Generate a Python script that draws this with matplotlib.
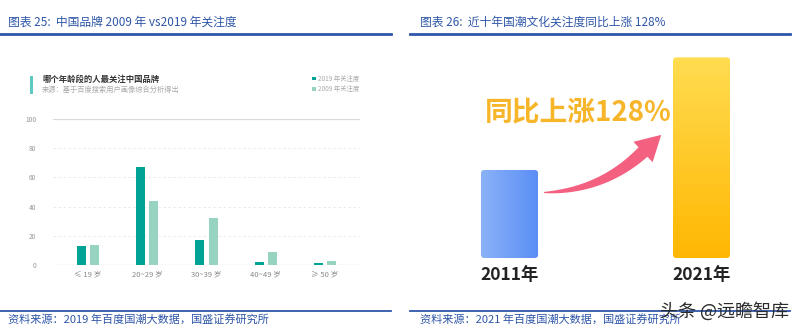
import numpy as np
import matplotlib
matplotlib.use("Agg")
import matplotlib.pyplot as plt
from matplotlib.patches import FancyBboxPatch, Polygon, Rectangle
from matplotlib.colors import LinearSegmentedColormap

plt.rcParams['font.family'] = ['Noto Sans CJK SC', 'DejaVu Sans']

# left chart data
age_groups = ["≤ 19 岁", "20~29 岁", "30~39 岁", "40~49 岁", "≥ 50 岁"]
attention_2019 = [13, 67, 17, 2, 1.4]
attention_2009 = [14, 44, 32, 9, 3]
y_ticks = [0, 20, 40, 60, 80, 100]

# right chart data
years = ["2011年", "2021年"]
heat_index = [100, 228]   # +128%

BLUE = "#2e56a8"
DARK_TEAL = "#00a396"
LIGHT_TEAL = "#97d3c1"

W, H = 800, 334
fig = plt.figure(figsize=(8, 3.34), dpi=100)


def fax(x0, y0, x1, y1):
    # axes from pixel box (top-left origin)
    return fig.add_axes([x0 / W, 1 - y1 / H, (x1 - x0) / W, (y1 - y0) / H])


# ---- overlay for page decorations (pixel coords) ----
deco = fig.add_axes([0, 0, 1, 1], zorder=5)
deco.set_xlim(0, W)
deco.set_ylim(H, 0)
deco.axis("off")

deco.text(8, 22, "图表 25:  中国品牌 2009 年 vs2019 年关注度", color=BLUE,
          fontsize=8.5, va="center", ha="left")
deco.text(420, 22, "图表 26:  近十年国潮文化关注度同比上涨 128%", color=BLUE,
          fontsize=8.5, va="center", ha="left")
deco.plot([0, 391], [33.5, 33.5], color=BLUE, lw=2)
deco.plot([410, 790], [33.5, 33.5], color=BLUE, lw=2)
deco.plot([0, 391], [311, 311], color=BLUE, lw=1.3)
deco.plot([410, 790], [311, 311], color=BLUE, lw=1.3)
deco.text(8, 319, "资料来源：2019 年百度国潮大数据，国盛证券研究所", color=BLUE,
          fontsize=8, va="center", ha="left")
deco.text(420, 319, "资料来源：2021 年百度国潮大数据，国盛证券研究所", color=BLUE,
          fontsize=8, va="center", ha="left")
deco.text(789, 311, "头条 @远瞻智库", color="#2a2a2a", fontsize=13,
          va="center", ha="right")

# inner header of left chart
deco.add_patch(Rectangle((30, 76), 3, 18, color="#5ec9c1", lw=0))
deco.text(42, 79, "哪个年龄段的人最关注中国品牌", color="#333333", fontsize=6,
          fontweight="bold", va="center", ha="left")
deco.text(42, 90, "来源：基于百度搜索用户画像综合分析得出", color="#aaaaaa",
          fontsize=5.2, va="center", ha="left")
deco.add_patch(Rectangle((312, 76.5), 3.5, 3.5, color=DARK_TEAL, lw=0))
deco.add_patch(Rectangle((312, 87), 3.5, 3.5, color=LIGHT_TEAL, lw=0))
deco.text(318, 78.5, "2019 年关注度", color="#aaaaaa", fontsize=4.6, va="center")
deco.text(318, 89, "2009 年关注度", color="#aaaaaa", fontsize=4.6, va="center")

# arrow (pixel coords): tapered quadratic shaft + head
p0 = np.array([544, 192.5])
p1 = np.array([602, 191])
p2 = np.array([643, 152])
t = np.linspace(0, 1, 60)
curve = ((1 - t) ** 2)[:, None] * p0 + (2 * (1 - t) * t)[:, None] * p1 + (t ** 2)[:, None] * p2
d = np.gradient(curve, axis=0)
d /= np.linalg.norm(d, axis=1)[:, None]
nrm = np.stack([d[:, 1], -d[:, 0]], axis=1)
half = 0.5 + 6.0 * t ** 0.8
upper = curve + nrm * half[:, None]
lower = curve - nrm * half[:, None]
dir_end = d[-1]
n_end = nrm[-1]
tip = p2 + dir_end * 25
head = [p2 + n_end * 14, tip, p2 - n_end * 14]
pts = np.vstack([upper, head, lower[::-1]])
deco.add_patch(Polygon(pts, closed=True, color="#f4607f", lw=0))

# ---- left chart: grouped bars ----
ax = fax(53, 119, 360, 265)
x = np.arange(len(age_groups))
bw = 0.152
ax.bar(x - 0.11, attention_2019, bw, color=DARK_TEAL, zorder=3)
ax.bar(x + 0.11, attention_2009, bw, color=LIGHT_TEAL, zorder=3)
ax.set_xlim(-0.59, 4.59)
ax.set_ylim(0, 100)
for v in y_ticks:
    if v in (0, 100):
        ax.axhline(v, color="#d9d9d9", lw=0.9, zorder=1)
    else:
        ax.axhline(v, color="#e6e6e6", lw=0.6, ls=(0, (3, 3)), zorder=1)
for s in ax.spines.values():
    s.set_visible(False)
ax.set_yticks(y_ticks)
ax.set_yticklabels([str(v) for v in y_ticks], fontsize=4.8, color="#999999")
ax.set_xticks(x)
ax.set_xticklabels(age_groups, fontsize=5.5, color="#888888")
ax.tick_params(length=0, pad=4)
ax.tick_params(axis="y", pad=12)
ax.patch.set_alpha(0)

# ---- right chart: gradient bars ----
ax2 = fax(413.5, 38, 797.5, 258)
ax2.set_xlim(-0.5, 1.5)
ax2.set_ylim(0, 250)
ax2.axis("off")
bw2 = 0.297
grads = [
    (np.linspace(0, 1, 64)[None, :], ["#8ab2f7", "#5a8ef5"]),
    (np.linspace(0, 1, 64)[:, None], ["#ffb703", "#ffdc50"]),
]
for i, val in enumerate(heat_index):
    g, cols = grads[i]
    cmap = LinearSegmentedColormap.from_list("g%d" % i, cols)
    box = FancyBboxPatch((i - bw2 / 2, 0), bw2, val,
                         boxstyle="round,pad=0,rounding_size=0.018",
                         mutation_aspect=200, lw=0, fc="none")
    ax2.add_patch(box)
    im = ax2.imshow(g, cmap=cmap, extent=(i - bw2 / 2, i + bw2 / 2, 0, val),
                    origin="lower", aspect="auto", zorder=2)
    im.set_clip_path(box)
    ax2.text(i, -19, years[i], ha="center", va="center", fontsize=12.5,
             fontweight="bold", color="#222222", clip_on=False)
ax2.set_xlim(-0.5, 1.5)
ax2.set_ylim(0, 250)

deco.text(578, 113, "同比上涨128%", color="#f7b52a", fontsize=20,
          fontweight="bold", ha="center", va="center")

fig.savefig("out.png", dpi=100)
